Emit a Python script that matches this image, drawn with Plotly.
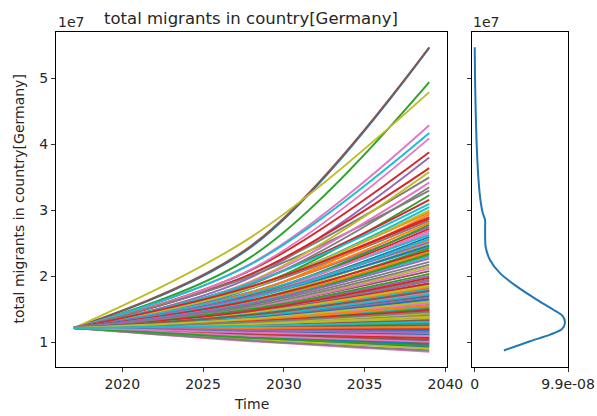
import plotly.graph_objects as go

# ---------------- data (values of the outcome in units of 1e7) ----------------
YEARS = [2017, 2028, 2039]
START = 1.22  # all runs start from the same value in 2017

# value in 2039, per run (runs ordered as drawn; colour follows the default cycle)
END_2039 = [
    5.46, 1.35, 4.94, 3.88, 3.80, 5.47, 4.29, 3.50, 4.79, 4.17,
    1.28, 2.97, 3.23, 3.64, 1.15, 2.08, 4.09, 3.30, 3.58, 1.42,
    2.60, 1.52, 1.05, 3.16, 1.33, 1.88, 3.42, 2.84, 1.22, 3.05,
    1.10, 2.94, 0.99, 1.44, 2.75, 1.61, 1.30, 3.35, 1.19, 2.45,
    1.70, 2.81, 1.40, 2.90, 1.08, 1.50, 2.66, 1.25, 2.38, 3.10,
    0.93, 2.55, 1.36, 2.72, 1.57, 1.21, 1.03, 1.82, 2.50, 1.13,
    1.49, 2.32, 2.78, 1.17, 2.01, 1.39, 0.86, 1.46, 3.00, 2.63,
    1.26, 1.75, 2.43, 2.87, 1.12, 1.55, 1.33, 2.22, 1.06, 1.64,
    2.47, 1.37, 1.20, 1.00, 1.93, 1.45, 2.69, 1.16, 2.15, 1.31,
    1.58, 2.36, 1.11, 1.29, 2.52, 0.96, 1.48, 1.79, 1.24, 2.57,
    1.02, 1.84, 1.66, 2.40, 1.38, 1.19, 2.12, 1.53, 0.91, 2.30,
    1.43, 1.09, 2.34, 1.22, 1.60, 1.72, 1.14, 1.95, 1.36, 1.27,
    0.98, 1.63, 1.29, 1.90, 1.47, 1.04, 1.76, 1.41, 1.86, 1.54,
    1.18, 1.32, 2.04, 1.07, 1.68, 1.26, 1.59, 0.88, 1.44, 1.73,
    1.65, 1.23, 1.51, 1.98, 1.16, 1.34, 1.01, 2.18, 1.39, 1.80,
    1.12, 1.56, 0.95, 1.49, 2.27, 1.78, 1.10, 1.46, 1.62, 1.31,
]

# value in 2028, per run
MID_2028 = [
    2.45, 1.27, 2.30, 2.10, 1.99, 2.47, 2.20, 2.04, 2.60, 2.19,
    1.24, 1.85, 1.82, 2.04, 1.18, 1.53, 2.11, 2.01, 1.93, 1.30,
    1.68, 1.33, 1.13, 1.90, 1.26, 1.46, 1.92, 1.82, 1.22, 1.82,
    1.16, 1.75, 1.09, 1.30, 1.77, 1.35, 1.25, 1.88, 1.20, 1.69,
    1.40, 1.76, 1.28, 1.84, 1.14, 1.31, 1.72, 1.23, 1.59, 1.90,
    1.06, 1.69, 1.27, 1.72, 1.34, 1.21, 1.12, 1.44, 1.64, 1.17,
    1.32, 1.63, 1.70, 1.19, 1.50, 1.28, 1.02, 1.31, 1.83, 1.74,
    1.24, 1.40, 1.62, 1.85, 1.16, 1.34, 1.26, 1.57, 1.13, 1.37,
    1.68, 1.27, 1.21, 1.10, 1.46, 1.30, 1.69, 1.19, 1.54, 1.25,
    1.35, 1.61, 1.16, 1.24, 1.70, 1.08, 1.32, 1.42, 1.23, 1.67,
    1.11, 1.43, 1.38, 1.64, 1.28, 1.20, 1.53, 1.33, 1.05, 1.60,
    1.30, 1.15, 1.58, 1.22, 1.36, 1.39, 1.18, 1.48, 1.26, 1.24,
    1.09, 1.36, 1.25, 1.45, 1.31, 1.12, 1.42, 1.29, 1.45, 1.33,
    1.20, 1.26, 1.51, 1.14, 1.38, 1.24, 1.35, 1.03, 1.30, 1.40,
    1.37, 1.22, 1.32, 1.48, 1.19, 1.26, 1.10, 1.55, 1.28, 1.43,
    1.16, 1.34, 1.07, 1.32, 1.59, 1.42, 1.15, 1.31, 1.36, 1.25,
]

# kernel density of the end values (value in 1e7, density in 1e-8)
KDE_VALUE = [5.47, 5.02, 4.52, 4.02, 3.51, 3.21, 2.96, 2.86, 2.71, 2.45, 2.25,
             2.05, 1.85, 1.65, 1.50, 1.40, 1.30, 1.20, 1.12, 1.02, 0.88]
KDE_DENSITY = [0.0, 0.03, 0.10, 0.20, 0.38, 0.56, 0.85, 1.09, 1.10, 1.16, 1.62,
               2.68, 4.45, 6.58, 8.30, 9.34, 9.58, 9.23, 8.00, 5.87, 3.10]

Y_TICKS = [1, 2, 3, 4, 5]
X_TICKS = [2020, 2025, 2030, 2035, 2040]
KDE_TICKS = [0, 9.9]
KDE_TICK_TEXT = ["0", "9.9e-08"]

TITLE = "total migrants in country[Germany]"

# ---------------- style ----------------
TAB10 = ['#1f77b4', '#ff7f0e', '#2ca02c', '#d62728', '#9467bd',
         '#8c564b', '#e377c2', '#7f7f7f', '#bcbd22', '#17becf']
FONT = "DejaVu Sans"
TXT = "#262626"
W, H = 597, 416

fig = go.Figure()
for i, (m, e) in enumerate(zip(MID_2028, END_2039)):
    fig.add_trace(go.Scatter(
        x=YEARS, y=[START, m, e], mode="lines",
        line=dict(color=TAB10[i % 10], width=1.9, shape="spline", smoothing=1.0),
        xaxis="x", yaxis="y", showlegend=False, hoverinfo="skip"))

fig.add_trace(go.Scatter(
    x=KDE_DENSITY, y=KDE_VALUE, mode="lines",
    line=dict(color=TAB10[0], width=2, shape="spline", smoothing=0.8),
    xaxis="x2", yaxis="y2", showlegend=False))

axis_common = dict(showgrid=False, zeroline=False, showline=True, linecolor="black",
                   linewidth=1, mirror=True, ticks="outside", ticklen=4, tickwidth=1,
                   automargin=False,
                   tickcolor="#333", tickfont=dict(family=FONT, size=14, color=TXT))

px = lambda p: p / W
py = lambda p: 1 - p / H

fig.update_layout(
    width=W, height=H, margin=dict(l=0, r=0, t=0, b=0),
    paper_bgcolor="white", plot_bgcolor="white",
    xaxis=dict(domain=[px(56), px(447)], range=[2015.9, 2040.1],
               tickvals=X_TICKS, **axis_common),
    yaxis=dict(domain=[py(367), py(32)], range=[0.63, 5.70],
               tickvals=Y_TICKS, **axis_common),
    xaxis2=dict(domain=[px(472), px(568)], range=[-0.29, 9.9], anchor="y2",
                tickvals=KDE_TICKS, ticktext=KDE_TICK_TEXT, **axis_common),
    yaxis2=dict(domain=[py(367), py(32)], matches="y", anchor="x2",
                tickvals=Y_TICKS, showticklabels=False, **axis_common),
    annotations=[
        dict(text=TITLE, x=px(251.5), y=py(18.5), xref="paper", yref="paper",
             showarrow=False, font=dict(family=FONT, size=16.5, color=TXT),
             xanchor="center", yanchor="middle"),
        dict(text="1e7", x=px(56), y=py(22), xref="paper", yref="paper",
             showarrow=False, font=dict(family=FONT, size=14, color=TXT),
             xanchor="left", yanchor="middle"),
        dict(text="1e7", x=px(471), y=py(22), xref="paper", yref="paper",
             showarrow=False, font=dict(family=FONT, size=14, color=TXT),
             xanchor="left", yanchor="middle"),
        dict(text="Time", x=px(251.5), y=py(404), xref="paper", yref="paper",
             showarrow=False, font=dict(family=FONT, size=14, color=TXT),
             xanchor="center", yanchor="middle"),
        dict(text=TITLE, x=px(18), y=py(199.5), xref="paper", yref="paper",
             showarrow=False, textangle=-90, font=dict(family=FONT, size=14, color=TXT),
             xanchor="center", yanchor="middle"),
    ],
)

fig.write_html("out.html", config={"displayModeBar": False},
               post_script="document.body.style.margin='0';document.body.style.overflow='hidden';")
